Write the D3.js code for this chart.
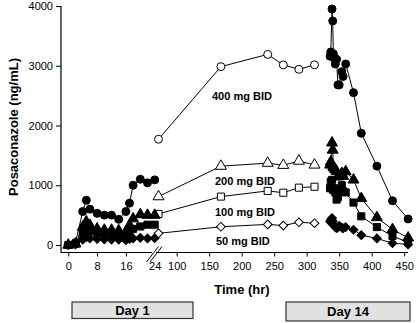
<!DOCTYPE html>
<html>
<head>
<meta charset="utf-8">
<script src="https://cdn.jsdelivr.net/npm/d3@7"></script>
<style>
  body { margin: 0; background: #fff; }
  svg { display: block; font-family: "Liberation Sans", Arial, sans-serif; }
  .tick text { font-size: 11px; fill: #000; }
  .tick line { stroke: #000; }
</style>
</head>
<body>
<svg id="chart" width="416" height="323"></svg>
<script>
// sampling times (hr)
const hoursDay1 = [0, 2, 4, 5, 6, 8, 10, 12, 14, 16, 17, 18, 20, 22, 24];
const hoursMid = [72, 168, 240, 264, 288, 312];
const hoursDay14 = [336, 337, 339, 340, 341, 342, 344, 346, 348, 350, 354, 356, 360, 372, 384, 408, 432, 456];

// posaconazole concentration (ng/mL), day 1 / days 3-13 troughs / day 14
const day1_400 = [0, 40, 560, 750, 600, 530, 500, 500, 430, 560, 700, 1000, 1100, 1040, 1090];
const day1_200 = [0, 20, 300, 390, 330, 270, 250, 250, 240, 220, 330, 440, 510, 500, 500];
const day1_100 = [0, 20, 200, 270, 230, 200, 190, 180, 170, 150, 220, 270, 310, 340, 340];
const day1_50  = [0, 10, 90, 130, 110, 100, 95, 90, 90, 80, 100, 110, 120, 110, 115];

const mid_400 = [1770, 2985, 3190, 3015, 2940, 3015];
const mid_200 = [810, 1320, 1370, 1335, 1405, 1340];
const mid_100 = [520, 810, 905, 875, 960, 975];
const mid_50  = [195, 305, 345, 325, 380, 365];

const day14_400 = [3160, 3230, 3950, 3750, 3200, 3130, 3030, 3110, 2680, 2680, 2900, 2820, 3030, 2550, 1870, 1320, 740, 435];
const day14_200 = [1340, 1390, 1710, 1590, 1310, 1290, 1260, 1230, 1140, 1150, 1200, 1150, 1230, 1090, 780, 460, 260, 120];
const day14_100 = [950, 1060, 1090, 940, 920, 950, 880, 760, 800, 900, 1000, 900, 880, 710, 480, 300, 150, 45];
const day14_50  = [390, 420, 450, 400, 340, 330, 300, 280, 300, 320, 290, 280, 300, 255, 165, 110, 30, 10];

const doseLabels = ["400 mg BID", "200 mg BID", "100 mg BID", "50 mg BID"];
const yTicks = [0, 1000, 2000, 3000, 4000];
const xTicksLeft = [0, 8, 16, 24];
const xTicksRight = [100, 150, 200, 250, 300, 350, 400, 450];

const svg = d3.select("#chart");

const xL = d3.scaleLinear().domain([0, 24]).range([68.3, 154.7]);
const xR = d3.scaleLinear().domain([100, 450]).range([176.7, 404.2]);
const y = d3.scaleLinear().domain([0, 4000]).range([245, 6]);
const axisY = 252.5;

const series = [
  { d1: day1_400, mid: mid_400, d14: day14_400, shape: d3.symbolCircle, size: 50, rot: 0 },
  { d1: day1_200, mid: mid_200, d14: day14_200, shape: d3.symbolTriangle, size: 52, rot: 0 },
  { d1: day1_100, mid: mid_100, d14: day14_100, shape: d3.symbolSquare, size: 50, rot: 0 },
  { d1: day1_50,  mid: mid_50,  d14: day14_50,  shape: d3.symbolSquare, size: 38, rot: 45 }
];

// axes
const gy = svg.append("g").attr("transform", "translate(61,0)")
  .call(d3.axisLeft(y).tickValues(yTicks).tickFormat(d3.format("d")).tickSize(5).tickSizeOuter(0));
gy.select(".domain").remove();
svg.append("line").attr("x1", 61).attr("x2", 61).attr("y1", y(4000)).attr("y2", axisY + 0.5)
  .attr("stroke", "#000").attr("stroke-width", 1.2);

const gxl = svg.append("g").attr("transform", `translate(0,${axisY})`)
  .call(d3.axisBottom(xL).tickValues(xTicksLeft).tickSize(4).tickPadding(6));
gxl.select(".domain").remove();
gxl.selectAll(".tick").filter(d => d === 24).select("line").remove();
const gxr = svg.append("g").attr("transform", `translate(0,${axisY})`)
  .call(d3.axisBottom(xR).tickValues(xTicksRight).tickSize(4).tickPadding(6));
gxr.select(".domain").remove();

svg.append("line").attr("x1", 61).attr("x2", 152).attr("y1", axisY).attr("y2", axisY)
  .attr("stroke", "#000").attr("stroke-width", 1.2);
svg.append("line").attr("x1", 156).attr("x2", 408).attr("y1", axisY).attr("y2", axisY)
  .attr("stroke", "#000").attr("stroke-width", 1.2);
// axis break
[[146.5, 158.5], [150, 162]].forEach(([a, b]) => {
  svg.append("line").attr("x1", a).attr("y1", 262).attr("x2", b).attr("y2", 246.5)
    .attr("stroke", "#000").attr("stroke-width", 1);
});

// axis titles
svg.append("text").attr("transform", "translate(18,127) rotate(-90)")
  .attr("text-anchor", "middle").attr("font-size", 13).attr("font-weight", "bold")
  .text("Posaconazole (ng/mL)");
svg.append("text").attr("x", 242).attr("y", 294)
  .attr("text-anchor", "middle").attr("font-size", 13).attr("font-weight", "bold")
  .text("Time (hr)");

// series
const line = d3.line().x(d => d[0]).y(d => d[1]);
function drawSegment(pts, s, open) {
  svg.append("path").attr("d", line(pts)).attr("fill", "none")
    .attr("stroke", "#000").attr("stroke-width", 1);
  svg.append("g").selectAll("path").data(pts).enter().append("path")
    .attr("d", d3.symbol().type(s.shape).size(s.size))
    .attr("transform", d => `translate(${d[0]},${d[1]}) rotate(${s.rot})`)
    .attr("fill", open ? "#fff" : "#000")
    .attr("stroke", "#000").attr("stroke-width", 1);
}

series.slice().reverse().forEach(s => {
  drawSegment(hoursDay1.map((t, i) => [xL(t), y(s.d1[i])]), s, false);
  drawSegment(hoursMid.map((t, i) => [xR(t), y(s.mid[i])]), s, true);
  drawSegment(hoursDay14.map((t, i) => [xR(t), y(s.d14[i])]), s, false);
});

// dose labels
const labelPos = [[212, 100], [215, 185], [215, 216], [216, 245]];
doseLabels.forEach((t, i) => {
  svg.append("text").attr("x", labelPos[i][0]).attr("y", labelPos[i][1])
    .attr("font-size", 11).attr("font-weight", "bold").text(t);
});

// day boxes
[["Day 1", 72, 302, 121, 16.5], ["Day 14", 286, 302, 124, 19]].forEach(([t, bx, by, bw, bh]) => {
  svg.append("rect").attr("x", bx).attr("y", by).attr("width", bw).attr("height", bh)
    .attr("fill", "#e2e2e2").attr("stroke", "#333").attr("stroke-width", 1.2);
  svg.append("text").attr("x", bx + bw / 2).attr("y", by + bh / 2 + 4.5)
    .attr("text-anchor", "middle").attr("font-size", 13).attr("font-weight", "bold").text(t);
});
</script>
</body>
</html>
